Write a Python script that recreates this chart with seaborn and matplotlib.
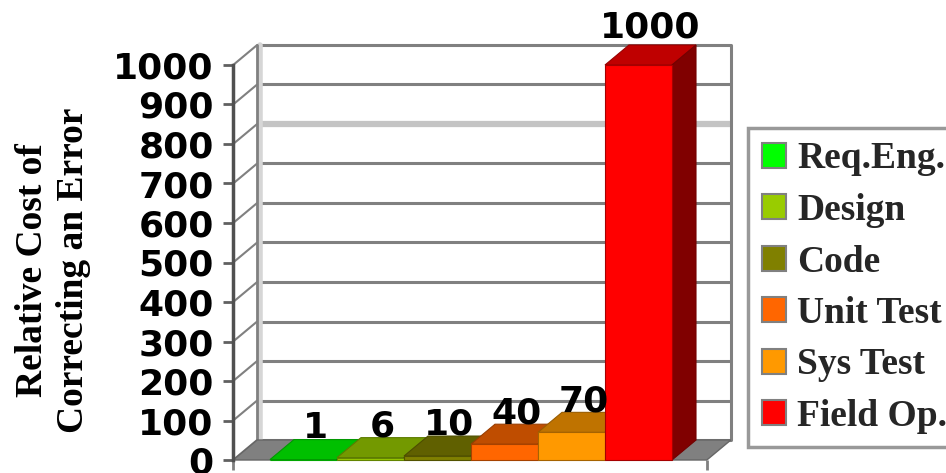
import numpy as np
import pandas as pd
import matplotlib
matplotlib.use("Agg")
import matplotlib.pyplot as plt
from matplotlib.patches import Polygon, Patch
from matplotlib.colors import to_rgb
import seaborn as sns

# ---- data ----
categories = ["Req.Eng.", "Design", "Code", "Unit Test", "Sys Test", "Field Op."]
costs = [1, 6, 10, 40, 70, 1000]
colors = ["#00FF00", "#99CC00", "#808000", "#FF6600", "#FF9900", "#FF0000"]
y_ticks = [0, 100, 200, 300, 400, 500, 600, 700, 800, 900, 1000]
y_label = "Relative Cost of\nCorrecting an Error"

sns.set_theme(style="white")
W, H, DPI = 946, 473, 100
fig = plt.figure(figsize=(W / DPI, H / DPI), dpi=DPI)
ax = fig.add_axes([0, 0, 1, 1])
ax.set_facecolor("none")

df = pd.DataFrame({"stage": categories, "cost": costs})
sns.barplot(data=df, x="stage", y="cost", hue="stage", order=categories,
            hue_order=categories, palette=colors, width=1.0, saturation=1,
            legend=False, ax=ax, linewidth=0)

# layout mapping (pixels -> data)
px_per_x = 67.0
px_per_y = 0.395
x_px0 = 270.0   # pixel column of left edge of first bar
y_px0 = 460.0   # pixel row of value 0
ax.set_xlim(-0.5 - x_px0 / px_per_x, -0.5 + (W - x_px0) / px_per_x)
ax.set_ylim(-(H - y_px0) / px_per_y, y_px0 / px_per_y)
DX = 24.0 / px_per_x
DY = 20.0 / px_per_y

patches = sorted(ax.patches, key=lambda p: p.get_x())
xmin = patches[0].get_x()
xmax = patches[-1].get_x() + patches[-1].get_width()
x0, x1 = xmin - 0.55, xmax + 0.52
top_v = y_ticks[-1]
GRAY = "#808080"

# walls and floor
for v in y_ticks:
    col, lw = (GRAY, 2.2)
    if v == 800:
        col, lw = ("#c4c4c4", 4.5)
    ax.plot([x0 + DX, x1 + DX], [v + DY, v + DY], color=col, lw=lw, zorder=0.5,
            solid_capstyle="butt")
    ax.plot([x0, x0 + DX], [v, v + DY], color=GRAY, lw=1.5, zorder=0.6)
ax.plot([x0 + DX + 0.04] * 2, [DY, top_v + DY], color="#d6d6d6", lw=4, zorder=0.55)
ax.plot([x0 + DX] * 2, [DY, top_v + DY], color=GRAY, lw=2, zorder=0.6)
ax.plot([x1 + DX] * 2, [DY, top_v + DY], color=GRAY, lw=2.2, zorder=0.6)
ax.add_patch(Polygon([(x0, 0), (x1, 0), (x1 + DX, DY), (x0 + DX, DY)],
                     closed=True, fc="#808080", ec="#666666", lw=1, zorder=1))

# 3D bars
for i, (p, val) in enumerate(zip(patches, costs)):
    x, w, h = p.get_x(), p.get_width(), p.get_height()
    base = np.array(to_rgb(p.get_facecolor()))
    z = 2 + i * 0.1
    p.set_zorder(z + 0.02)
    p.set_edgecolor(tuple(base * 0.65))
    p.set_linewidth(0.8)
    ax.add_patch(Polygon([(x, h), (x + w, h), (x + w + DX, h + DY), (x + DX, h + DY)],
                         closed=True, fc=tuple(base * 0.75), ec=tuple(base * 0.6),
                         lw=0.8, zorder=z))
    ax.add_patch(Polygon([(x + w, 0), (x + w + DX, DY), (x + w + DX, h + DY), (x + w, h)],
                         closed=True, fc=tuple(base * 0.5), ec=tuple(base * 0.45),
                         lw=0.8, zorder=z))
    pad = 3 if h < top_v else 18
    ax.text(x + w / 2 + DX / 2, h + DY + pad, str(val), ha="center", va="baseline",
            fontsize=26, fontweight="bold", family="DejaVu Sans", color="black",
            zorder=6)

# axes styling
for s in ["top", "right"]:
    ax.spines[s].set_visible(False)
ax.spines["left"].set_position(("data", x0))
ax.spines["left"].set_bounds(0, top_v)
ax.spines["left"].set_color("#505050")
ax.spines["left"].set_linewidth(2.5)
ax.spines["left"].set_zorder(3)
ax.spines["bottom"].set_position(("data", 0))
ax.spines["bottom"].set_visible(False)

ax.set_yticks(y_ticks)
ax.set_yticklabels([str(t) for t in y_ticks], fontsize=26, fontweight="bold",
                   family="DejaVu Sans", color="black")
ax.tick_params(axis="y", left=True, length=7, width=2, color="#606060", pad=7,
               direction="out")
ax.set_xticks([x0, x1])
ax.set_xticklabels(["", ""])
ax.tick_params(axis="x", bottom=True, length=7, width=2, color="#808080",
               direction="out")
ax.set_xlabel("")
ax.set_ylabel("")

fig.text(53 / W, 1 - 270 / H, y_label, rotation=90, ha="center", va="center",
         multialignment="center", fontsize=27, fontweight="bold",
         family="Liberation Serif", linespacing=1.2, color="black")

handles = [Patch(fc=c, ec="#808080", lw=1.5) for c in colors]
leg = fig.legend(handles, categories, loc="upper left",
                 bbox_to_anchor=(748 / W, 1 - 128 / H),
                 prop=dict(family="Liberation Serif", weight="bold", size=27),
                 frameon=True, fancybox=False, edgecolor="#808080",
                 handlelength=0.65, handleheight=0.65, handletextpad=0.3,
                 borderpad=0.36, labelspacing=0.44, borderaxespad=0)
leg.get_frame().set_linewidth(2.5)
leg.get_frame().set_facecolor("white")

fig.savefig("out.png", dpi=DPI)
